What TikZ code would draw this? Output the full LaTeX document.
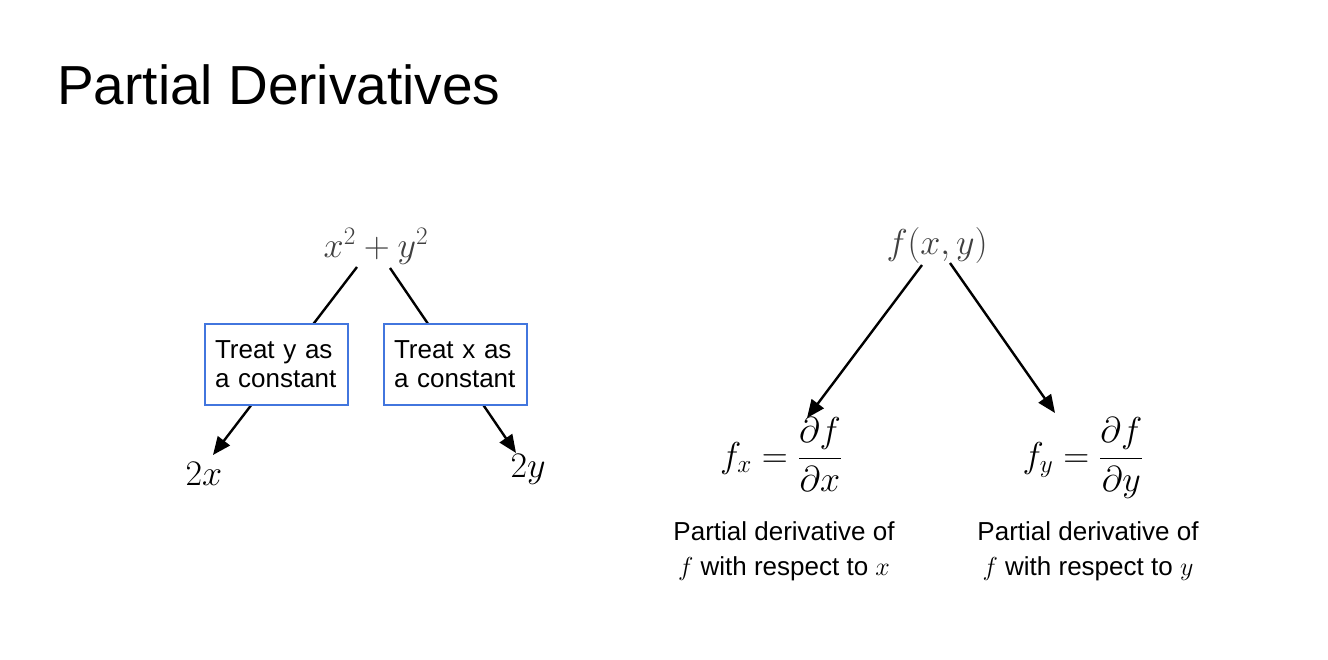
\RequirePackage{fix-cm}
\documentclass[tikz,border=0pt]{standalone}
\usepackage{fontspec}
\setmainfont{Liberation Sans}
\usetikzlibrary{arrows.meta}
\definecolor{boxblue}{RGB}{66,118,222}
\tikzset{
  mathtxt/.style={inner sep=0pt, anchor=base, font=\fontsize{36}{40}\selectfont},
  constbox/.style={draw=boxblue, line width=2pt, fill=white, inner xsep=10pt,
    text width=123pt, minimum height=81pt, align=left, font=\fontsize{26}{29}\selectfont},
  desc/.style={inner sep=0pt, anchor=north, align=center, font=\fontsize{26}{35}\selectfont},
  branch/.style={line width=2.4pt, -{Triangle[length=18pt,width=15pt]}}
}
\begin{document}
\begin{tikzpicture}[x=1pt,y=-1pt]
      \useasboundingbox[fill=white] (0,0) rectangle (1328,660);
      \node[anchor=base west, inner sep=0pt, font=\fontsize{55}{60}\selectfont] (title) at (57,105) {Partial Derivatives};
      % left tree
      \node[mathtxt, text=black!75] (sum) at (376,258) {$x^2+y^2$};
      \node[mathtxt] (twox) at (204,485) {$2x$};
      \node[mathtxt] (twoy) at (528,477) {$2y$};
      \draw[branch] ([shift={(-19,9)}]sum.base) -- ([shift={(9,-30)}]twox.base);
      \draw[branch] ([shift={(14,10)}]sum.base) -- ([shift={(-12,-24)}]twoy.base);
      \node[constbox] (consty) at (276.5,364.5) {Treat y as a constant};
      \node[constbox] (constx) at (455.5,364.5) {Treat x as a constant};
      % right tree
      \node[mathtxt, text=black!75] (fxy) at (937,255) {$f(x,y)$};
      \node[mathtxt] (fxeq) at (781,467) {$\displaystyle f_x=\frac{\partial f}{\partial x}$};
      \node[mathtxt] (fyeq) at (1083,467) {$\displaystyle f_y=\frac{\partial f}{\partial y}$};
      \draw[branch] ([shift={(-15,10)}]fxy.base) -- ([shift={(26,-49)}]fxeq.base);
      \draw[branch] ([shift={(13,8)}]fxy.base) -- ([shift={(-28,-54)}]fyeq.base);
      \node[desc] (descx) at (784,521) {Partial derivative of\\$f$ with respect to $x$};
      \node[desc] (descy) at (1088,521) {Partial derivative of\\$f$ with respect to $y$};
    \end{tikzpicture}
\end{document}
